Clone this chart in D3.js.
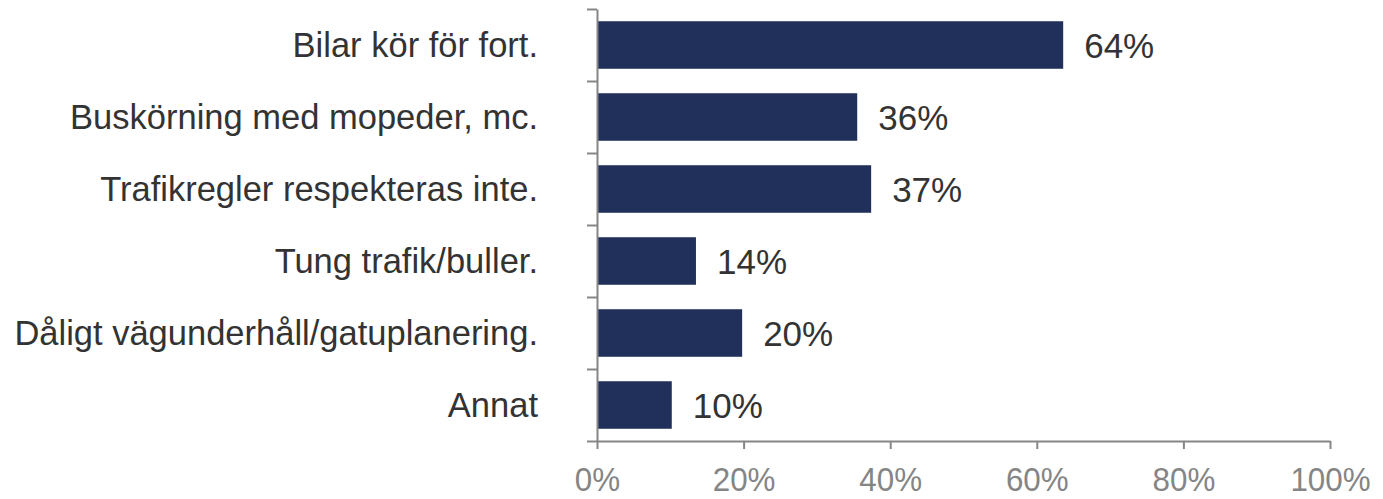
<!DOCTYPE html>
<html>
<head>
<meta charset="utf-8">
<title>Trafikproblem</title>
<script src="https://d3js.org/d3.v7.min.js"></script>
<style>
  body { margin: 0; background: #fff; }
  text { font-family: "Liberation Sans", Arial, sans-serif; }
</style>
</head>
<body>
<div id="chart"></div>
<script>
// data
var categories = ["Bilar kör för fort.", "Buskörning med mopeder, mc.", "Trafikregler respekteras inte.",
                  "Tung trafik/buller.", "Dåligt vägunderhåll/gatuplanering.", "Annat"];
var values = [0.636, 0.355, 0.374, 0.135, 0.198, 0.102];
var valueLabels = ["64%", "36%", "37%", "14%", "20%", "10%"];
var xTicks = [0, 0.2, 0.4, 0.6, 0.8, 1.0];
var xTickLabels = ["0%", "20%", "40%", "60%", "80%", "100%"];

var width = 1383, height = 499;
var mLeft = 597, mRight = 1330, mTop = 9, mBottom = 441;

var svg = d3.select("#chart").append("svg")
    .attr("width", width)
    .attr("height", height);

var x = d3.scaleLinear().domain([0, 1]).range([mLeft, mRight]);
var y = d3.scaleBand().domain(categories).range([mTop, mBottom]).paddingInner(0.34).paddingOuter(0.17);

// bars
svg.selectAll("rect.bar")
  .data(values)
  .enter()
  .append("rect")
    .attr("class", "bar")
    .attr("x", x(0))
    .attr("y", function(d, i) { return y(categories[i]); })
    .attr("width", function(d) { return x(d) - x(0); })
    .attr("height", y.bandwidth())
    .attr("fill", "#20305a");

// value labels
svg.selectAll("text.val")
  .data(values)
  .enter()
  .append("text")
    .attr("class", "val")
    .attr("x", function(d) { return x(d) + 21; })
    .attr("y", function(d, i) { return y(categories[i]) + y.bandwidth() / 2; })
    .attr("dy", "0.36em")
    .style("font-size", "35px")
    .style("fill", "#333")
    .text(function(d, i) { return valueLabels[i]; });

// y axis (category edges as ticks)
var yEdge = d3.scaleLinear().domain([0, categories.length]).range([mTop, mBottom]);
var gy = svg.append("g")
    .attr("transform", "translate(" + mLeft + ",0)")
    .call(d3.axisLeft(yEdge).ticks(categories.length).tickSize(10).tickSizeOuter(0).tickFormat(""));
gy.selectAll("path, line").attr("stroke", "#868686").attr("stroke-width", 2);

// category labels
svg.selectAll("text.cat")
  .data(categories)
  .enter()
  .append("text")
    .attr("class", "cat")
    .attr("x", 538)
    .attr("y", function(d) { return y(d) + y.bandwidth() / 2; })
    .attr("dy", "0.36em")
    .attr("text-anchor", "end")
    .style("font-size", "34.5px")
    .style("fill", "#333")
    .text(function(d) { return d; });

// x axis
var gx = svg.append("g")
    .attr("transform", "translate(0," + mBottom + ")")
    .call(d3.axisBottom(x).tickValues(xTicks).tickSize(8).tickSizeOuter(0)
      .tickFormat(function(d, i) { return xTickLabels[i]; }));
gx.selectAll("path, line").attr("stroke", "#868686").attr("stroke-width", 2);
gx.selectAll("text")
    .attr("y", 50)
    .attr("dy", 0)
    .attr("transform", "scale(0.95,1)")
    .style("font-size", "33px")
    .style("font-family", "'Liberation Sans', Arial, sans-serif")
    .style("fill", "#858585");
</script>
</body>
</html>
